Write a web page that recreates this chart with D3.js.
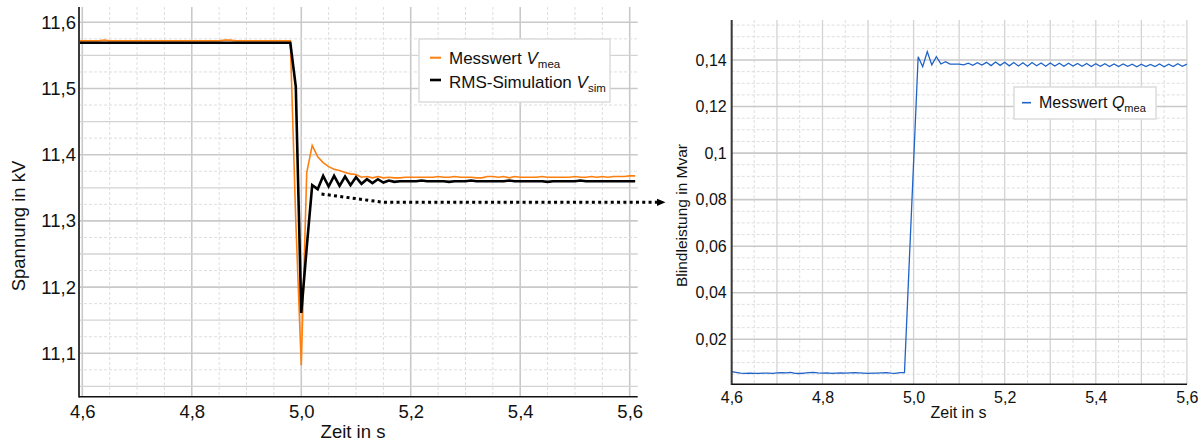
<!DOCTYPE html>
<html><head><meta charset="utf-8">
<script src="https://cdn.jsdelivr.net/npm/d3@7"></script>
<style>html,body{margin:0;padding:0;background:#fff}svg{display:block}text{font-family:"Liberation Sans",Arial,sans-serif;fill:#111}</style>
</head><body>
<svg id="chart" width="1202" height="443"></svg>
<script>
// ---------- data ----------
const timeV = [4.59,4.60,4.61,4.62,4.63,4.64,4.65,4.66,4.67,4.68,4.69,4.70,4.71,4.72,4.73,4.74,4.75,4.76,4.77,4.78,4.79,
4.80,4.81,4.82,4.83,4.84,4.85,4.86,4.87,4.88,4.89,4.90,4.91,4.92,4.93,4.94,4.95,4.96,4.97,4.98,4.99,
5.00,5.01,5.02,5.03,5.04,5.05,5.06,5.07,5.08,5.09,5.10,5.11,5.12,5.13,5.14,5.15,5.16,5.17,5.18,5.19,
5.20,5.21,5.22,5.23,5.24,5.25,5.26,5.27,5.28,5.29,5.30,5.31,5.32,5.33,5.34,5.35,5.36,5.37,5.38,5.39,
5.40,5.41,5.42,5.43,5.44,5.45,5.46,5.47,5.48,5.49,5.50,5.51,5.52,5.53,5.54,5.55,5.56,5.57,5.58,5.59,5.60,5.61];
const vMea = [11.572,11.572,11.572,11.572,11.572,11.573,11.572,11.572,11.572,11.572,11.572,11.572,11.572,11.572,11.572,11.572,11.572,11.572,11.572,11.572,11.572,
11.572,11.572,11.572,11.572,11.572,11.572,11.573,11.573,11.572,11.572,11.572,11.572,11.572,11.572,11.572,11.572,11.572,11.572,11.572,11.300,
11.082,11.373,11.414,11.397,11.388,11.382,11.378,11.376,11.373,11.371,11.370,11.366,11.367,11.365,11.367,11.365,11.366,11.365,11.365,11.366,
11.366,11.366,11.366,11.366,11.366,11.367,11.366,11.366,11.367,11.366,11.366,11.366,11.365,11.365,11.367,11.367,11.366,11.367,11.365,11.367,
11.366,11.366,11.366,11.366,11.367,11.366,11.366,11.366,11.366,11.366,11.367,11.366,11.366,11.367,11.366,11.367,11.366,11.367,11.367,11.367,11.368,11.368];
const vSim = [11.569,11.569,11.569,11.569,11.569,11.569,11.569,11.569,11.569,11.569,11.569,11.569,11.569,11.569,11.569,11.569,11.569,11.569,11.569,11.569,11.569,
11.569,11.569,11.569,11.569,11.569,11.569,11.569,11.569,11.569,11.569,11.569,11.569,11.569,11.569,11.569,11.569,11.569,11.569,11.569,11.503,
11.161,11.260,11.354,11.348,11.368,11.352,11.368,11.353,11.367,11.354,11.366,11.356,11.363,11.357,11.363,11.358,11.361,11.359,11.360,11.360,
11.360,11.360,11.361,11.360,11.360,11.360,11.360,11.359,11.360,11.360,11.360,11.361,11.360,11.360,11.360,11.360,11.360,11.360,11.361,11.360,
11.360,11.360,11.360,11.360,11.360,11.359,11.360,11.360,11.360,11.360,11.360,11.361,11.360,11.360,11.360,11.360,11.360,11.360,11.360,11.360,11.360,11.360];
const timeQ = timeV.slice(1, 102);
const qMea = [0.0061,0.0058,0.0055,0.0054,0.0055,0.0054,0.0054,0.0055,0.0055,0.0054,0.0056,0.0057,0.0056,0.0058,0.0054,0.0053,0.0055,0.0057,0.0058,0.0056,
0.0055,0.0056,0.0054,0.0055,0.0056,0.0055,0.0056,0.0057,0.0056,0.0055,0.0054,0.0055,0.0055,0.0056,0.0057,0.0055,0.0054,0.0057,0.0057,0.0510,
0.0960,0.1414,0.1371,0.1436,0.1379,0.1414,0.1383,0.1393,0.1382,0.1382,0.1382,0.1379,0.1386,0.1377,0.1388,0.1378,0.1390,0.1376,0.1391,0.1377,
0.1390,0.1375,0.1389,0.1374,0.1388,0.1373,0.1389,0.1375,0.1387,0.1373,0.1387,0.1374,0.1386,0.1373,0.1386,0.1374,0.1385,0.1373,0.1385,0.1372,
0.1384,0.1373,0.1384,0.1372,0.1383,0.1372,0.1383,0.1373,0.1382,0.1371,0.1382,0.1372,0.1381,0.1372,0.1383,0.1371,0.1382,0.1372,0.1384,0.1373,0.1382];
// annotation arrow (time, kV) – last point leaves the plot towards the right chart
const arrowT = [5.037, 5.150, 5.652];
const arrowV = [11.3406, 11.3281, 11.3281];

const xTickVals = [4.6, 4.8, 5.0, 5.2, 5.4, 5.6];
const xTickLabels = ["4,6", "4,8", "5,0", "5,2", "5,4", "5,6"];
const vTickVals = [11.1, 11.2, 11.3, 11.4, 11.5, 11.6];
const vTickLabels = ["11,1", "11,2", "11,3", "11,4", "11,5", "11,6"];
const qTickVals = [0.02, 0.04, 0.06, 0.08, 0.10, 0.12, 0.14];
const qTickLabels = ["0,02", "0,04", "0,06", "0,08", "0,1", "0,12", "0,14"];

// ---------- drawing ----------
const svg = d3.select("#chart");
svg.append("rect").attr("width", 1202).attr("height", 443).attr("fill", "#fff");

const GRID_MAJ = "#c9c9c9", GRID_MID = "#d3d3d3", GRID_MIN = "#dedede";

function grid(g, x, y, L, xMinor, xMid, xMaj, yMinor, yMid, yMaj) {
  const near = (a, b) => Math.abs(a - b) < 1e-6;
  const isMult = (v, s) => near(v / s, Math.round(v / s));
  xMinor.forEach(v => {
    const maj = xMaj.some(m => near(m, v)), mid = xMid && isMult(v, xMid);
    g.append("line").attr("x1", x(v)).attr("x2", x(v)).attr("y1", L.top).attr("y2", L.bottom)
      .attr("stroke", maj ? GRID_MAJ : mid ? GRID_MID : GRID_MIN)
      .attr("stroke-width", maj ? 1.6 : mid ? 1.3 : 1)
      .attr("stroke-dasharray", (maj || mid) ? null : "3,2");
  });
  yMinor.forEach(v => {
    const maj = yMaj.some(m => near(m, v)), mid = yMid && isMult(v, yMid);
    g.append("line").attr("y1", y(v)).attr("y2", y(v)).attr("x1", L.left).attr("x2", L.right)
      .attr("stroke", maj ? GRID_MAJ : mid ? GRID_MID : GRID_MIN)
      .attr("stroke-width", maj ? 1.6 : mid ? 1.3 : 1)
      .attr("stroke-dasharray", (maj || mid) ? null : "3,2");
  });
}

// ===== left chart =====
const L1 = {left: 79, right: 637.7, top: 7, bottom: 396.7};
const x1 = d3.scaleLinear().domain([4.6, 5.6]).range([82.3, 629.7]);
const y1 = d3.scaleLinear().domain([11.1, 11.6]).range([353.3, 22.3]);
const g1 = svg.append("g");
const x1Minor = d3.range(4.6, 5.6151, 0.05).map(v => +v.toFixed(3));
const y1Minor = d3.range(11.05, 11.6201, 0.025).map(v => +v.toFixed(3));
grid(g1, x1, y1, L1, x1Minor, null, xTickVals, y1Minor, 0.05, vTickVals);

svg.append("clipPath").attr("id", "clip1").append("rect")
  .attr("x", L1.left).attr("y", L1.top).attr("width", L1.right - L1.left + 2).attr("height", L1.bottom - L1.top);
const line1 = (vals) => d3.line().x((d, i) => x1(timeV[i])).y(d => y1(d))(vals);
g1.append("path").attr("d", line1(vMea)).attr("fill", "none").attr("stroke", "#ff7f0e")
  .attr("stroke-width", 1.6).attr("stroke-linejoin", "miter").attr("clip-path", "url(#clip1)");
g1.append("path").attr("d", line1(vSim)).attr("fill", "none").attr("stroke", "#000")
  .attr("stroke-width", 2.6).attr("stroke-linejoin", "miter").attr("clip-path", "url(#clip1)");

// axes
const ax1 = d3.axisBottom(x1).tickValues(xTickVals).tickFormat((d, i) => xTickLabels[i]).tickSize(0).tickPadding(8.5);
const gx1 = g1.append("g").attr("transform", `translate(0,${L1.bottom})`).call(ax1);
gx1.select(".domain").remove();
gx1.selectAll("text").attr("font-size", 18.5).style("font-family", "Liberation Sans, Arial, sans-serif").attr("fill", "#111");
const ay1 = d3.axisLeft(y1).tickValues(vTickVals).tickFormat((d, i) => vTickLabels[i]).tickSize(0).tickPadding(3);
const gy1 = g1.append("g").attr("transform", `translate(${L1.left},0)`).call(ay1);
gy1.select(".domain").remove();
gy1.selectAll("text").attr("font-size", 18.5).style("font-family", "Liberation Sans, Arial, sans-serif").attr("fill", "#111");
g1.append("line").attr("x1", L1.left).attr("x2", L1.left).attr("y1", L1.top).attr("y2", L1.bottom + 0.8)
  .attr("stroke", "#3a3a3a").attr("stroke-width", 2);
g1.append("line").attr("x1", L1.left).attr("x2", L1.right).attr("y1", L1.bottom).attr("y2", L1.bottom)
  .attr("stroke", "#111").attr("stroke-width", 1.6);

svg.append("text").attr("x", 353).attr("y", 438).attr("text-anchor", "middle").attr("font-size", 18.5).text("Zeit in s");
svg.append("text").attr("transform", "translate(25,226) rotate(-90)").attr("text-anchor", "middle")
  .attr("font-size", 18.5).text("Spannung in kV");

// legend left
const lg1 = svg.append("g");
lg1.append("rect").attr("x", 419).attr("y", 39).attr("width", 191).attr("height", 63)
  .attr("fill", "#fff").attr("stroke", "#dcdcdc").attr("stroke-width", 1.5);
lg1.append("line").attr("x1", 430).attr("x2", 441).attr("y1", 57.7).attr("y2", 57.7).attr("stroke", "#ff7f0e").attr("stroke-width", 2);
lg1.append("line").attr("x1", 430).attr("x2", 441).attr("y1", 80).attr("y2", 80).attr("stroke", "#000").attr("stroke-width", 2.6);
const t1 = lg1.append("text").attr("x", 449).attr("y", 64).attr("font-size", 17);
t1.append("tspan").text("Messwert ");
t1.append("tspan").attr("font-style", "italic").text("V");
t1.append("tspan").attr("font-size", 11.5).attr("dy", 3.5).text("mea");
const t2 = lg1.append("text").attr("x", 449).attr("y", 88.3).attr("font-size", 17);
t2.append("tspan").text("RMS-Simulation ");
t2.append("tspan").attr("font-style", "italic").text("V");
t2.append("tspan").attr("font-size", 11.5).attr("dy", 3.5).text("sim");

// dotted arrow
const arrowPts = arrowT.map((t, i) => [x1(t), y1(arrowV[i])]);
arrowPts[2][0] = 657;
svg.append("path").attr("d", d3.line()(arrowPts)).attr("fill", "none").attr("stroke", "#000")
  .attr("stroke-width", 3).attr("stroke-dasharray", "3,3.3");
const ay = arrowPts[2][1];
svg.append("path").attr("d", `M657,${ay - 3.6}L665.5,${ay}L657,${ay + 3.6}Z`).attr("fill", "#000");

// ===== right chart =====
const L2 = {left: 731.7, right: 1187, top: 20, bottom: 384.3};
const x2 = d3.scaleLinear().domain([4.6, 5.6]).range([731.4, 1186.9]);
const y2 = d3.scaleLinear().domain([0.02, 0.14]).range([339.3, 60]);
const g2 = svg.append("g");
const x2Minor = d3.range(4.6, 5.6001, 0.05).map(v => +v.toFixed(3));
const y2Minor = d3.range(0.005, 0.1551, 0.005).map(v => +v.toFixed(4));
grid(g2, x2, y2, L2, x2Minor, 0.1, [], y2Minor, null, qTickVals);

svg.append("clipPath").attr("id", "clip2").append("rect")
  .attr("x", L2.left).attr("y", L2.top).attr("width", L2.right - L2.left + 2).attr("height", L2.bottom - L2.top);
g2.append("path").attr("d", d3.line().x((d, i) => x2(timeQ[i])).y(d => y2(d))(qMea))
  .attr("fill", "none").attr("stroke", "#1f63c6").attr("stroke-width", 1.3).attr("clip-path", "url(#clip2)");

const ax2 = d3.axisBottom(x2).tickValues(xTickVals).tickFormat((d, i) => xTickLabels[i]).tickSize(0).tickPadding(7.3);
const gx2 = g2.append("g").attr("transform", `translate(0,${L2.bottom})`).call(ax2);
gx2.select(".domain").remove();
gx2.selectAll("text").attr("font-size", 16).style("font-family", "Liberation Sans, Arial, sans-serif").attr("fill", "#111");
const ay2 = d3.axisLeft(y2).tickValues(qTickVals).tickFormat((d, i) => qTickLabels[i]).tickSize(0).tickPadding(5);
const gy2 = g2.append("g").attr("transform", `translate(${L2.left},0)`).call(ay2);
gy2.select(".domain").remove();
gy2.selectAll("text").attr("font-size", 16).style("font-family", "Liberation Sans, Arial, sans-serif").attr("fill", "#111");
g2.append("line").attr("x1", L2.left).attr("x2", L2.left).attr("y1", L2.top).attr("y2", L2.bottom + 0.8)
  .attr("stroke", "#3a3a3a").attr("stroke-width", 2);
g2.append("line").attr("x1", L2.left).attr("x2", L2.right).attr("y1", L2.bottom).attr("y2", L2.bottom)
  .attr("stroke", "#111").attr("stroke-width", 1.6);

svg.append("text").attr("x", 958.5).attr("y", 417.5).attr("text-anchor", "middle").attr("font-size", 16).text("Zeit in s");
svg.append("text").attr("transform", "translate(687,215.5) rotate(-90)").attr("text-anchor", "middle")
  .attr("font-size", 15.5).text("Blindleistung in Mvar");

// legend right
const lg2 = svg.append("g");
lg2.append("rect").attr("x", 1014).attr("y", 87).attr("width", 142).attr("height", 32)
  .attr("fill", "#fff").attr("stroke", "#dcdcdc").attr("stroke-width", 1.5);
lg2.append("line").attr("x1", 1022).attr("x2", 1031).attr("y1", 102.7).attr("y2", 102.7).attr("stroke", "#1f63c6").attr("stroke-width", 1.6);
const t3 = lg2.append("text").attr("x", 1039).attr("y", 108.3).attr("font-size", 16);
t3.append("tspan").text("Messwert ");
t3.append("tspan").attr("font-style", "italic").text("Q");
t3.append("tspan").attr("font-size", 11).attr("dy", 3.2).text("mea");
</script>
</body></html>
